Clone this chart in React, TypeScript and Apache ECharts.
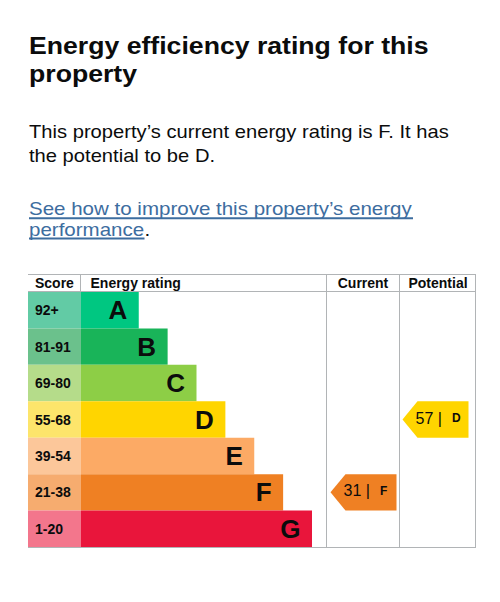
import React, { useEffect, useRef } from "react";
import * as echarts from "echarts";

// ---- data ----
const ratings = ["A", "B", "C", "D", "E", "F", "G"];
const scoreRanges = ["92+", "81-91", "69-80", "55-68", "39-54", "21-38", "1-20"];
const barLengths = [2, 3, 4, 5, 6, 7, 8];
const bandColors = ["#00c781", "#19b459", "#8dce46", "#ffd500", "#fcaa65", "#ef8023", "#e9153b"];
const scoreColors = ["#62cba5", "#6bc18c", "#b5dc8a", "#fde56b", "#fcc79a", "#f6ac6f", "#f3768c"];
const columnHeaders = ["Score", "Energy rating", "Current", "Potential"];
const currentScore = 31;
const currentBand = "F";
const potentialScore = 57;
const potentialBand = "D";

const titleLines = ["Energy efficiency rating for this", "property"];
const paragraphLines = [
  "This property\u2019s current energy rating is F. It has",
  "the potential to be D.",
];
const linkLines = ["See how to improve this property\u2019s energy", "performance"];

const FONT = '"Liberation Sans", Arial, Helvetica, sans-serif';
const INK = "#0b0c0c";
const LINK = "#3d6d9f";
const RULE = "#b1b4b6";

function txt(
  text: string,
  x: number,
  y: number,
  size: number,
  weight: string,
  color: string,
  scaleX = 1,
  align = "left"
) {
  return {
    type: "text",
    x,
    y,
    scaleX,
    z: 5,
    style: {
      text,
      fontSize: size,
      fontWeight: weight,
      fontFamily: FONT,
      fill: color,
      align,
      verticalAlign: "middle",
    },
  };
}

function hline(x1: number, x2: number, y: number) {
  return {
    type: "line",
    z: 0,
    shape: { x1, y1: y, x2, y2: y },
    style: { stroke: RULE, lineWidth: 1 },
  };
}
function vline(x: number, y1: number, y2: number) {
  return {
    type: "line",
    z: 0,
    shape: { x1: x, y1, x2: x, y2 },
    style: { stroke: RULE, lineWidth: 1 },
  };
}

function pointerSeries(gridIdx: number, score: number, band: string) {
  const idx = ratings.indexOf(band);
  const color = bandColors[idx];
  return {
    type: "custom",
    xAxisIndex: gridIdx,
    yAxisIndex: gridIdx,
    data: [[0, idx]],
    z: 3,
    renderItem: (params: any, api: any) => {
      const cs = params.coordSys;
      const yc = api.coord([0, api.value(1)])[1];
      const h = api.size([0, 1])[1];
      const x0 = cs.x;
      const tip = x0 + 3.5;
      const body = x0 + 18.5;
      const right = x0 + 69.5;
      const top = yc - h / 2;
      const bottom = yc + h / 2;
      return {
        type: "group",
        children: [
          {
            type: "polygon",
            shape: {
              points: [
                [tip, yc],
                [body, top],
                [right, top],
                [right, bottom],
                [body, bottom],
              ],
            },
            style: { fill: color },
          },
          {
            type: "text",
            x: body - 2,
            y: yc - 1.5,
            style: {
              text: `{n|${score} |}{b|${band}}`,
              align: "left",
              verticalAlign: "middle",
              rich: {
                n: { fontSize: 16, fontFamily: FONT, fill: INK, color: INK },
                b: {
                  fontSize: 12,
                  fontWeight: "bold",
                  fontFamily: FONT,
                  fill: INK,
                  color: INK,
                  padding: [0, 0, 0, 10],
                },
              },
            },
          },
        ],
      };
    },
  };
}

const ROW_TOP = 292;
const ROW_H = 255;

const grids = [
  { left: 28, top: ROW_TOP, width: 53, height: ROW_H },
  { left: 81, top: ROW_TOP, width: 231, height: ROW_H },
  { left: 327, top: ROW_TOP, width: 72, height: ROW_H },
  { left: 399, top: ROW_TOP, width: 76, height: ROW_H },
];
const xMax = [1, 8, 1, 1];

const option: any = {
  animation: false,
  backgroundColor: "#ffffff",
  grid: grids,
  xAxis: grids.map((_, i) => ({
    type: "value",
    gridIndex: i,
    min: 0,
    max: xMax[i],
    show: false,
  })),
  yAxis: grids.map((_, i) => ({
    type: "category",
    gridIndex: i,
    data: ratings,
    inverse: true,
    show: false,
  })),
  series: [
    {
      type: "bar",
      xAxisIndex: 0,
      yAxisIndex: 0,
      barCategoryGap: "0%",
      data: scoreRanges.map((_, i) => ({ value: 1, itemStyle: { color: scoreColors[i] } })),
      label: {
        show: true,
        position: "insideLeft",
        distance: 7,
        formatter: (p: any) => scoreRanges[p.dataIndex],
        fontSize: 14,
        fontWeight: "bold",
        fontFamily: FONT,
        color: INK,
      },
    },
    {
      type: "bar",
      xAxisIndex: 1,
      yAxisIndex: 1,
      barCategoryGap: "0%",
      data: barLengths.map((v, i) => ({ value: v, itemStyle: { color: bandColors[i] } })),
      label: {
        show: true,
        position: "insideRight",
        distance: 11.5,
        formatter: (p: any) => ratings[p.dataIndex],
        fontSize: 26,
        fontWeight: "bold",
        fontFamily: FONT,
        color: INK,
      },
    },
    pointerSeries(2, currentScore, currentBand),
    pointerSeries(3, potentialScore, potentialBand),
  ],
  graphic: [
    txt(titleLines[0], 29, 45, 24, "bold", INK, 1.11),
    txt(titleLines[1], 29, 73.5, 24, "bold", INK, 1.11),
    txt(paragraphLines[0], 29, 131.8, 18, "normal", INK, 1.12),
    txt(paragraphLines[1], 29, 155.8, 18, "normal", INK, 1.12),
    txt(linkLines[0], 29, 208.5, 18, "normal", LINK, 1.14),
    txt(linkLines[1], 29, 229.5, 18, "normal", LINK, 1.14),
    txt(".", 144.5, 229.5, 18, "normal", INK, 1.14),
    { type: "rect", z: 5, shape: { x: 29, y: 217.3, width: 384, height: 2 }, style: { fill: LINK } },
    { type: "rect", z: 5, shape: { x: 29, y: 237.5, width: 115.5, height: 2 }, style: { fill: LINK } },
    hline(28, 475.5, 274.5),
    hline(28, 475.5, 291.5),
    hline(28, 475.5, 547.5),
    vline(80.5, 274, 292),
    vline(326.5, 274, 548),
    vline(399.5, 274, 548),
    vline(475.5, 274, 548),
    txt(columnHeaders[0], 35, 283, 14, "bold", INK),
    txt(columnHeaders[1], 90.5, 283, 14, "bold", INK),
    txt(columnHeaders[2], 363, 283, 14, "bold", INK, 1, "center"),
    txt(columnHeaders[3], 438, 283, 14, "bold", INK, 1, "center"),
  ],
};

export default function App() {
  const ref = useRef<HTMLDivElement>(null);
  useEffect(() => {
    const chart = echarts.init(ref.current as HTMLDivElement, null, { renderer: "svg" });
    chart.setOption(option);
    return () => chart.dispose();
  }, []);
  return (
    <div
      ref={ref}
      style={{ position: "absolute", left: 0, top: 0, width: 500, height: 602, background: "#fff" }}
    />
  );
}
